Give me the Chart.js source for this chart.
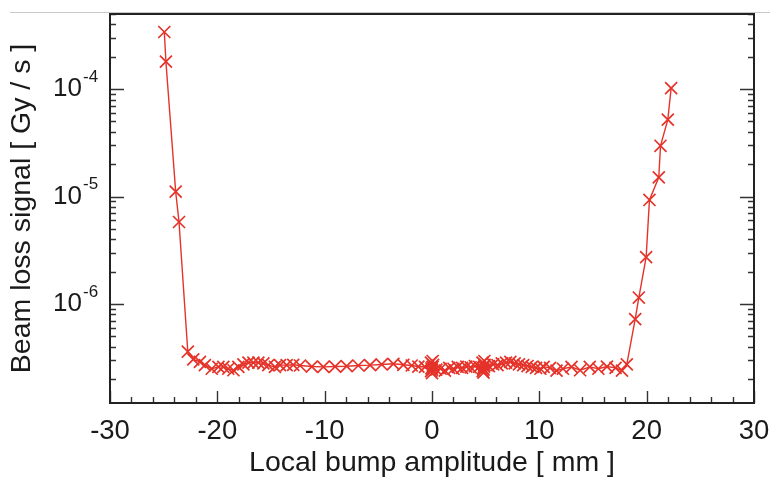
<!DOCTYPE html>
<html>
<head>
<meta charset="utf-8">
<script src="https://cdn.jsdelivr.net/npm/chart.js@4.4.1/dist/chart.umd.min.js"></script>
<style>
html,body{margin:0;padding:0;background:#fff;}
#wrap{width:770px;height:478px;position:relative;}
</style>
</head>
<body>
<div id="wrap"><canvas id="c" width="770" height="478"></canvas></div>
<script>
// Local bump amplitude [mm]
const bumpAmplitude = [
  -24.94, -24.79, -23.88, -23.57, -22.75, -22.24, -21.62, -21.16, -20.52, -19.9,
  -19.44, -18.98, -18.5, -18.04, -17.57, -17.1, -16.64, -16.18, -15.71, -15.25,
  -14.63, -14.16, -13.54, -12.93, -12.3, -11.2, -10.12, -9.03, -7.95, -6.86,
  -5.77, -4.69, -3.6, -2.67, -1.89, -1.27, -0.65,
  -0.1, 0.0, 0.05, -0.05, 0.1, 0.0, -0.08, 0.06,
  0.4, 0.8, 1.2, 1.6, 2.0, 2.4, 2.8, 3.2, 3.6, 4.0, 4.4,
  4.7, 4.8, 4.85, 4.75, 4.9, 4.8, 4.72, 4.88,
  5.3, 5.7, 6.1, 6.5, 6.9, 7.3, 7.7, 8.1, 8.5, 8.9, 9.3, 9.7, 10.1,
  10.4, 11.0, 11.6, 12.2, 13.0, 13.8, 14.7, 15.5, 16.3, 17.1, 17.7, 18.15,
  18.93, 19.27, 19.95, 20.26, 21.13, 21.29, 21.97, 22.28
];
// Beam loss signal [Gy/s]
const beamLoss = [
  3.4e-4, 1.8e-4, 1.11e-5, 5.8e-6, 3.6e-7, 3.05e-7, 2.9e-7, 2.7e-7, 2.5e-7, 2.6e-7,
  2.6e-7, 2.5e-7, 2.42e-7, 2.6e-7, 2.75e-7, 2.85e-7, 2.85e-7, 2.85e-7, 2.8e-7, 2.7e-7,
  2.6e-7, 2.7e-7, 2.7e-7, 2.72e-7, 2.68e-7, 2.62e-7, 2.6e-7, 2.62e-7, 2.64e-7, 2.68e-7,
  2.7e-7, 2.74e-7, 2.78e-7, 2.72e-7, 2.68e-7, 2.62e-7, 2.6e-7,
  2.85e-7, 2.45e-7, 2.6e-7, 2.52e-7, 2.72e-7, 2.28e-7, 2.38e-7, 2.95e-7,
  2.45e-7, 2.5e-7, 2.4e-7, 2.55e-7, 2.5e-7, 2.6e-7, 2.55e-7, 2.62e-7, 2.58e-7, 2.65e-7, 2.6e-7,
  2.85e-7, 2.45e-7, 2.62e-7, 2.52e-7, 2.72e-7, 2.3e-7, 2.38e-7, 2.95e-7,
  2.65e-7, 2.75e-7, 2.7e-7, 2.8e-7, 2.85e-7, 2.9e-7, 2.8e-7, 2.75e-7, 2.7e-7, 2.65e-7, 2.6e-7, 2.55e-7, 2.5e-7,
  2.6e-7, 2.55e-7, 2.4e-7, 2.5e-7, 2.6e-7, 2.42e-7, 2.6e-7, 2.5e-7, 2.62e-7, 2.55e-7, 2.4e-7, 2.75e-7,
  7.24e-7, 1.15e-6, 2.73e-6, 9.3e-6, 1.51e-5, 2.97e-5, 5.2e-5, 1.02e-4
];
const xTickValues = [-30, -20, -10, 0, 10, 20, 30];
const yTickValues = [1e-6, 1e-5, 1e-4];
const yTickExponents = ["-6", "-5", "-4"];
const xTitle = "Local bump amplitude [ mm ]";
const yTitle = "Beam loss signal [ Gy / s ]";

const RED = '#e5332a';
const INK = '#1a1a1a';
const FONT = "'Liberation Sans', Arial, Helvetica, sans-serif";

const points = bumpAmplitude.map((x, i) => ({x: x, y: beamLoss[i]}));

const frameTicks = {
  id: 'frameTicks',
  beforeDraw(chart) {
    const ctx = chart.ctx;
    ctx.save();
    ctx.strokeStyle = '#c8c8c8';
    ctx.lineWidth = 1;
    ctx.beginPath();
    ctx.moveTo(10, 12.5); ctx.lineTo(770, 12.5);
    ctx.stroke();
    ctx.restore();
  },
  afterDraw(chart) {
    const {ctx, chartArea: a, scales} = chart;
    const xs = scales.x, ys = scales.y;
    ctx.save();
    ctx.strokeStyle = '#333';
    ctx.lineWidth = 1.4;
    ctx.beginPath();
    for (let v = -30; v <= 30; v += 2) {
      const px = Math.round(xs.getPixelForValue(v)) + 0.5;
      const len = (v % 10 === 0) ? 12 : 6;
      ctx.moveTo(px, a.bottom); ctx.lineTo(px, a.bottom - len);
    }
    for (let e = -8; e <= -3; e++) {
      for (let k = 1; k <= 9; k++) {
        const v = k * Math.pow(10, e);
        if (v < ys.min || v > ys.max) continue;
        const py = Math.round(ys.getPixelForValue(v)) + 0.5;
        const len = (k === 1) ? 14 : 6;
        ctx.moveTo(a.left, py); ctx.lineTo(a.left + len, py);
        ctx.moveTo(a.right, py); ctx.lineTo(a.right - len, py);
      }
    }
    ctx.stroke();
    ctx.strokeStyle = '#222';
    ctx.lineWidth = 2;
    ctx.strokeRect(a.left, a.top, a.right - a.left, a.bottom - a.top);
    ctx.fillStyle = INK;
    ctx.font = "17px " + FONT;
    ctx.textAlign = 'left';
    ctx.textBaseline = 'middle';
    yTickValues.forEach((v, i) => {
      const py = ys.getPixelForValue(v);
      ctx.fillText(yTickExponents[i], a.left - 27, py - 12);
    });
    ctx.restore();
  }
};

new Chart(document.getElementById('c'), {
  type: 'scatter',
  data: {
    datasets: [{
      data: points,
      showLine: true,
      borderColor: RED,
      backgroundColor: RED,
      borderWidth: 1.4,
      pointStyle: 'crossRot',
      pointRadius: 8.5,
      pointBorderWidth: 1.7,
      pointBorderColor: RED,
      pointHoverRadius: 8.5,
      tension: 0
    }]
  },
  options: {
    responsive: false,
    animation: false,
    devicePixelRatio: 1,
    layout: {padding: {left: 0, right: 16, top: 14, bottom: 0}},
    plugins: {legend: {display: false}, tooltip: {enabled: false}},
    scales: {
      x: {
        type: 'linear',
        min: -30, max: 30,
        afterFit(s) { s.height = 75; s.paddingLeft = 0; s.paddingRight = 0; },
        afterBuildTicks(s) { s.ticks = xTickValues.map(v => ({value: v})); },
        grid: {display: false, drawTicks: false},
        border: {display: false},
        ticks: {
          color: INK, padding: 12, maxRotation: 0,
          font: {family: FONT, size: 27.5},
          callback: v => String(v)
        },
        title: {
          display: true, text: xTitle, color: INK,
          font: {family: FONT, size: 28.5, lineHeight: 1},
          padding: {top: 0, bottom: 1}
        }
      },
      y: {
        type: 'logarithmic',
        min: 1.2e-7, max: 5e-4,
        afterFit(s) { s.width = 110; s.paddingTop = 0; s.paddingBottom = 0; },
        afterBuildTicks(s) { s.ticks = yTickValues.map(v => ({value: v})); },
        grid: {display: false, drawTicks: false},
        border: {display: false},
        ticks: {
          color: INK, padding: 28, autoSkip: false,
          font: {family: FONT, size: 26},
          callback: () => '10'
        },
        title: {
          display: true, text: yTitle, color: INK,
          font: {family: FONT, size: 28.5, lineHeight: 1},
          padding: {top: 8, bottom: 0}
        }
      }
    }
  },
  plugins: [frameTicks]
});
</script>
</body>
</html>
